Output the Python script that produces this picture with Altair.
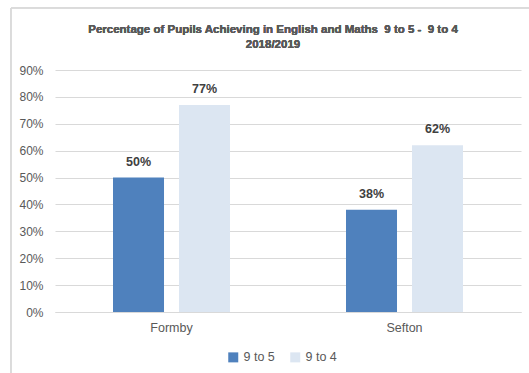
import altair as alt
import pandas as pd

regions = ["Formby", "Formby", "Sefton", "Sefton"]
series = ["9 to 5", "9 to 4", "9 to 5", "9 to 4"]
values = [0.50, 0.77, 0.38, 0.62]
title_lines = ["Percentage of Pupils Achieving in English and Maths \u00a09 to 5 - \u00a09 to 4", "2018/2019"]

df = pd.DataFrame({"Region": regions, "Series": series, "Value": values})

FONT = "Liberation Sans"
GRAY = "#595959"

x = alt.X("Region:N", title=None, sort=["Formby", "Sefton"],
          scale=alt.Scale(paddingInner=0, paddingOuter=0),
          axis=alt.Axis(labelAngle=0, labelFont=FONT, labelFontSize=12.5, labelColor=GRAY,
                        labelPadding=9, ticks=False, domainColor="#D9D9D9", grid=False))
xo = alt.XOffset("Series:N", sort=["9 to 5", "9 to 4"],
                 scale=alt.Scale(paddingInner=0.227, paddingOuter=0.879))
y = alt.Y("Value:Q", title=None,
          scale=alt.Scale(domain=[0, 0.9]),
          axis=alt.Axis(format=".0%", values=[i / 10 for i in range(10)], labelFont=FONT,
                        labelFontSize=12, labelColor=GRAY, labelPadding=12, ticks=False,
                        domain=False, gridColor="#D9D9D9"))
color = alt.Color("Series:N", sort=["9 to 5", "9 to 4"],
                  scale=alt.Scale(domain=["9 to 5", "9 to 4"], range=["#4F81BD", "#DCE6F2"]),
                  legend=alt.Legend(title=None, orient="none", direction="horizontal",
                                    legendX=172, legendY=281, symbolType="square",
                                    symbolSize=100, symbolStrokeWidth=0, labelFont=FONT,
                                    labelFontSize=12.5, labelColor=GRAY, columnPadding=14,
                                    labelOffset=4))

base = alt.Chart(df)
bars = base.mark_bar().encode(x=x, xOffset=xo, y=y, color=color)
text = base.mark_text(dy=-9, baseline="bottom", font=FONT, fontSize=12.5,
                      fontWeight="bold", color="#404040").encode(
    x=x, xOffset=xo, y=y, text=alt.Text("Value:Q", format=".0%"))

title1 = alt.Chart(df).mark_text(text=title_lines[0], font=FONT, fontSize=11.5, fontWeight="bold",
                                 color=GRAY, align="center", baseline="middle").encode(
    x=alt.value(218), y=alt.value(-40))
title2 = alt.Chart(df).mark_text(text=title_lines[1], font=FONT, fontSize=11.5, fontWeight="bold",
                                 color=GRAY, align="center", baseline="middle").encode(
    x=alt.value(218), y=alt.value(-25))

left_border = alt.Chart(df).mark_rule(color="#D9D9D9", strokeWidth=1).encode(
    x=alt.value(-44), y=alt.value(-62), y2=alt.value(310))
top_border = alt.Chart(df).mark_rule(color="#D9D9D9", strokeWidth=1).encode(
    x=alt.value(-44), x2=alt.value(480), y=alt.value(-62))

chart = alt.layer(bars, text, title1, title2, left_border, top_border).properties(
    width=466, height=242,
    autosize=alt.AutoSizeParams(type="none"),
    padding={"left": 55, "top": 70, "right": 8, "bottom": 61},
    background="white",
).configure_view(stroke=None)

chart.save("out.html", embed_options={"renderer": "svg", "actions": False})
